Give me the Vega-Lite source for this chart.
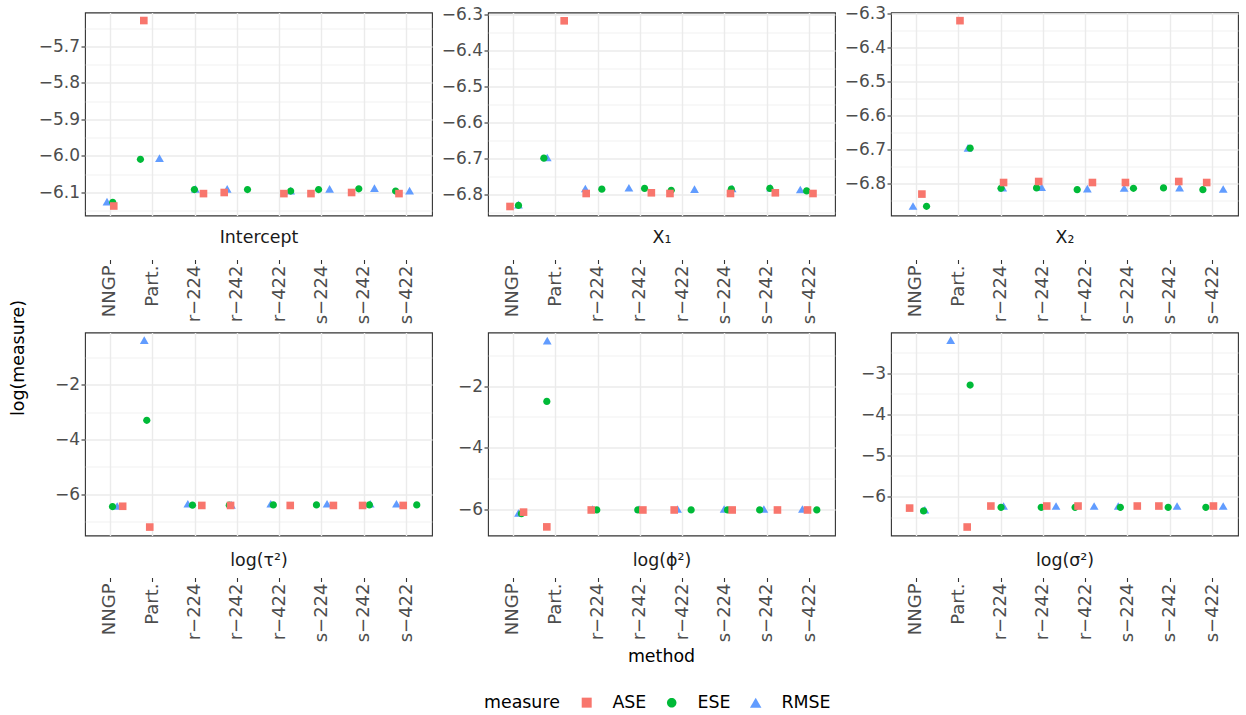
{
  "$schema": "https://vega.github.io/schema/vega-lite/v6.json",
  "padding": {"left": 8, "top": 3.5, "right": 5, "bottom": 5},
  "background": "white",
  "config": {
    "font": "DejaVu Sans",
    "view": {"stroke": "#333333", "strokeWidth": 1.1},
    "axis": {
      "domain": false, "grid": true, "gridColor": "#EBEBEB", "gridWidth": 1.4,
      "tickColor": "#333333", "tickSize": 4, "tickWidth": 1.1, "labelOverlap": false,
      "labelColor": "#4D4D4D", "labelFontSize": 17, "labelFont": "DejaVu Sans",
      "titleFont": "DejaVu Sans", "titleFontWeight": "normal", "titleColor": "#1A1A1A", "titleFontSize": 17.4
    },
    "axisX": {"labelAngle": 270, "labelAlign": "right", "labelBaseline": "middle", "labelPadding": 1.5, "labelFontSize": 18, "bandPosition": 0.5},
    "axisY": {"labelPadding": 1.5},
    "title": {"font": "DejaVu Sans", "fontWeight": "normal", "fontSize": 17.4, "color": "#000000"},
    "point": {"size": 58, "filled": true, "opacity": 1}
  },
  "datasets": {
    "d": [
      {"param":"Intercept","method":"NNGP","measure":"RMSE","value":-6.125,"jit":-0.08},
      {"param":"Intercept","method":"Part.","measure":"RMSE","value":-6.006,"jit":0.16},
      {"param":"Intercept","method":"r−224","measure":"RMSE","value":-6.090,"jit":0.01},
      {"param":"Intercept","method":"r−242","measure":"RMSE","value":-6.090,"jit":-0.24},
      {"param":"Intercept","method":"r−422","measure":"RMSE","value":-6.095,"jit":0.26},
      {"param":"Intercept","method":"s−224","measure":"RMSE","value":-6.090,"jit":0.18},
      {"param":"Intercept","method":"s−242","measure":"RMSE","value":-6.088,"jit":0.24},
      {"param":"Intercept","method":"s−422","measure":"RMSE","value":-6.095,"jit":0.07},
      {"param":"X₁","method":"NNGP","measure":"RMSE","value":-6.827,"jit":0.12},
      {"param":"X₁","method":"Part.","measure":"RMSE","value":-6.696,"jit":-0.2},
      {"param":"X₁","method":"r−224","measure":"RMSE","value":-6.782,"jit":-0.30},
      {"param":"X₁","method":"r−242","measure":"RMSE","value":-6.780,"jit":-0.27},
      {"param":"X₁","method":"r−422","measure":"RMSE","value":-6.784,"jit":0.28},
      {"param":"X₁","method":"s−224","measure":"RMSE","value":-6.782,"jit":0.17},
      {"param":"X₁","method":"s−242","measure":"RMSE","value":-6.780,"jit":0.08},
      {"param":"X₁","method":"s−422","measure":"RMSE","value":-6.785,"jit":-0.22},
      {"param":"X₂","method":"NNGP","measure":"RMSE","value":-6.865,"jit":-0.08},
      {"param":"X₂","method":"Part.","measure":"RMSE","value":-6.694,"jit":0.22},
      {"param":"X₂","method":"r−224","measure":"RMSE","value":-6.811,"jit":0.04},
      {"param":"X₂","method":"r−242","measure":"RMSE","value":-6.810,"jit":-0.04},
      {"param":"X₂","method":"r−422","measure":"RMSE","value":-6.814,"jit":0.04},
      {"param":"X₂","method":"s−224","measure":"RMSE","value":-6.812,"jit":-0.09},
      {"param":"X₂","method":"s−242","measure":"RMSE","value":-6.811,"jit":0.22},
      {"param":"X₂","method":"s−422","measure":"RMSE","value":-6.815,"jit":0.25},
      {"param":"tau","method":"NNGP","measure":"RMSE","value":-6.43,"jit":0.16},
      {"param":"tau","method":"Part.","measure":"RMSE","value":-0.371,"jit":-0.2},
      {"param":"tau","method":"r−224","measure":"RMSE","value":-6.35,"jit":-0.17},
      {"param":"tau","method":"r−242","measure":"RMSE","value":-6.39,"jit":-0.14},
      {"param":"tau","method":"r−422","measure":"RMSE","value":-6.35,"jit":-0.21},
      {"param":"tau","method":"s−224","measure":"RMSE","value":-6.35,"jit":0.12},
      {"param":"tau","method":"s−242","measure":"RMSE","value":-6.35,"jit":0.14},
      {"param":"tau","method":"s−422","measure":"RMSE","value":-6.35,"jit":-0.24},
      {"param":"phi","method":"NNGP","measure":"RMSE","value":-6.13,"jit":0.12},
      {"param":"phi","method":"Part.","measure":"RMSE","value":-0.523,"jit":-0.2},
      {"param":"phi","method":"r−224","measure":"RMSE","value":-6.00,"jit":-0.13},
      {"param":"phi","method":"r−242","measure":"RMSE","value":-6.00,"jit":-0.03},
      {"param":"phi","method":"r−422","measure":"RMSE","value":-6.00,"jit":-0.12},
      {"param":"phi","method":"s−224","measure":"RMSE","value":-6.00,"jit":-0.02},
      {"param":"phi","method":"s−242","measure":"RMSE","value":-6.00,"jit":-0.08},
      {"param":"phi","method":"s−422","measure":"RMSE","value":-6.00,"jit":-0.17},
      {"param":"sigma","method":"NNGP","measure":"RMSE","value":-6.32,"jit":0.2},
      {"param":"sigma","method":"Part.","measure":"RMSE","value":-2.20,"jit":-0.19},
      {"param":"sigma","method":"r−224","measure":"RMSE","value":-6.23,"jit":0.06},
      {"param":"sigma","method":"r−242","measure":"RMSE","value":-6.23,"jit":0.3},
      {"param":"sigma","method":"r−422","measure":"RMSE","value":-6.23,"jit":0.2},
      {"param":"sigma","method":"s−224","measure":"RMSE","value":-6.23,"jit":-0.23},
      {"param":"sigma","method":"s−242","measure":"RMSE","value":-6.23,"jit":0.16},
      {"param":"sigma","method":"s−422","measure":"RMSE","value":-6.23,"jit":0.25},

      {"param":"Intercept","method":"NNGP","measure":"ESE","value":-6.127,"jit":0.055},
      {"param":"Intercept","method":"Part.","measure":"ESE","value":-6.009,"jit":-0.29},
      {"param":"Intercept","method":"r−224","measure":"ESE","value":-6.092,"jit":-0.015},
      {"param":"Intercept","method":"r−242","measure":"ESE","value":-6.092,"jit":0.24},
      {"param":"Intercept","method":"r−422","measure":"ESE","value":-6.096,"jit":0.26},
      {"param":"Intercept","method":"s−224","measure":"ESE","value":-6.092,"jit":-0.08},
      {"param":"Intercept","method":"s−242","measure":"ESE","value":-6.090,"jit":-0.13},
      {"param":"Intercept","method":"s−422","measure":"ESE","value":-6.096,"jit":-0.26},
      {"param":"X₁","method":"NNGP","measure":"ESE","value":-6.829,"jit":0.12},
      {"param":"X₁","method":"Part.","measure":"ESE","value":-6.698,"jit":-0.28},
      {"param":"X₁","method":"r−224","measure":"ESE","value":-6.784,"jit":0.09},
      {"param":"X₁","method":"r−242","measure":"ESE","value":-6.782,"jit":0.10},
      {"param":"X₁","method":"r−422","measure":"ESE","value":-6.787,"jit":-0.27},
      {"param":"X₁","method":"s−224","measure":"ESE","value":-6.784,"jit":0.15},
      {"param":"X₁","method":"s−242","measure":"ESE","value":-6.782,"jit":0.06},
      {"param":"X₁","method":"s−422","measure":"ESE","value":-6.789,"jit":-0.07},
      {"param":"X₂","method":"NNGP","measure":"ESE","value":-6.866,"jit":0.24},
      {"param":"X₂","method":"Part.","measure":"ESE","value":-6.695,"jit":0.27},
      {"param":"X₂","method":"r−224","measure":"ESE","value":-6.813,"jit":0.0},
      {"param":"X₂","method":"r−242","measure":"ESE","value":-6.812,"jit":-0.16},
      {"param":"X₂","method":"r−422","measure":"ESE","value":-6.817,"jit":-0.2},
      {"param":"X₂","method":"s−224","measure":"ESE","value":-6.813,"jit":0.13},
      {"param":"X₂","method":"s−242","measure":"ESE","value":-6.812,"jit":-0.16},
      {"param":"X₂","method":"s−422","measure":"ESE","value":-6.817,"jit":-0.23},
      {"param":"tau","method":"NNGP","measure":"ESE","value":-6.45,"jit":0.05},
      {"param":"tau","method":"Part.","measure":"ESE","value":-3.30,"jit":-0.14},
      {"param":"tau","method":"r−224","measure":"ESE","value":-6.40,"jit":-0.06},
      {"param":"tau","method":"r−242","measure":"ESE","value":-6.40,"jit":-0.19},
      {"param":"tau","method":"r−422","measure":"ESE","value":-6.39,"jit":-0.15},
      {"param":"tau","method":"s−224","measure":"ESE","value":-6.39,"jit":-0.13},
      {"param":"tau","method":"s−242","measure":"ESE","value":-6.39,"jit":0.12},
      {"param":"tau","method":"s−422","measure":"ESE","value":-6.39,"jit":0.24},
      {"param":"phi","method":"NNGP","measure":"ESE","value":-6.15,"jit":0.19},
      {"param":"phi","method":"Part.","measure":"ESE","value":-2.50,"jit":-0.21},
      {"param":"phi","method":"r−224","measure":"ESE","value":-6.03,"jit":-0.03},
      {"param":"phi","method":"r−242","measure":"ESE","value":-6.03,"jit":-0.06},
      {"param":"phi","method":"r−422","measure":"ESE","value":-6.03,"jit":0.2},
      {"param":"phi","method":"s−224","measure":"ESE","value":-6.03,"jit":0.06},
      {"param":"phi","method":"s−242","measure":"ESE","value":-6.03,"jit":-0.18},
      {"param":"phi","method":"s−422","measure":"ESE","value":-6.03,"jit":0.17},
      {"param":"sigma","method":"NNGP","measure":"ESE","value":-6.35,"jit":0.17},
      {"param":"sigma","method":"Part.","measure":"ESE","value":-3.29,"jit":0.27},
      {"param":"sigma","method":"r−224","measure":"ESE","value":-6.26,"jit":0.0},
      {"param":"sigma","method":"r−242","measure":"ESE","value":-6.26,"jit":-0.05},
      {"param":"sigma","method":"r−422","measure":"ESE","value":-6.26,"jit":-0.25},
      {"param":"sigma","method":"s−224","measure":"ESE","value":-6.26,"jit":-0.18},
      {"param":"sigma","method":"s−242","measure":"ESE","value":-6.26,"jit":-0.05},
      {"param":"sigma","method":"s−422","measure":"ESE","value":-6.26,"jit":-0.16},

      {"param":"Intercept","method":"NNGP","measure":"ASE","value":-6.137,"jit":0.08},
      {"param":"Intercept","method":"Part.","measure":"ASE","value":-5.629,"jit":-0.21},
      {"param":"Intercept","method":"r−224","measure":"ASE","value":-6.103,"jit":0.2},
      {"param":"Intercept","method":"r−242","measure":"ASE","value":-6.100,"jit":-0.31},
      {"param":"Intercept","method":"r−422","measure":"ASE","value":-6.103,"jit":0.10},
      {"param":"Intercept","method":"s−224","measure":"ASE","value":-6.103,"jit":-0.26},
      {"param":"Intercept","method":"s−242","measure":"ASE","value":-6.100,"jit":-0.30},
      {"param":"Intercept","method":"s−422","measure":"ASE","value":-6.103,"jit":-0.18},
      {"param":"X₁","method":"NNGP","measure":"ASE","value":-6.832,"jit":-0.08},
      {"param":"X₁","method":"Part.","measure":"ASE","value":-6.317,"jit":0.20},
      {"param":"X₁","method":"r−224","measure":"ASE","value":-6.796,"jit":-0.28},
      {"param":"X₁","method":"r−242","measure":"ASE","value":-6.794,"jit":0.26},
      {"param":"X₁","method":"r−422","measure":"ASE","value":-6.796,"jit":-0.30},
      {"param":"X₁","method":"s−224","measure":"ASE","value":-6.796,"jit":0.13},
      {"param":"X₁","method":"s−242","measure":"ASE","value":-6.794,"jit":0.19},
      {"param":"X₁","method":"s−422","measure":"ASE","value":-6.796,"jit":0.08},
      {"param":"X₂","method":"NNGP","measure":"ASE","value":-6.830,"jit":0.13},
      {"param":"X₂","method":"Part.","measure":"ASE","value":-6.320,"jit":0.03},
      {"param":"X₂","method":"r−224","measure":"ASE","value":-6.796,"jit":0.06},
      {"param":"X₂","method":"r−242","measure":"ASE","value":-6.793,"jit":-0.11},
      {"param":"X₂","method":"r−422","measure":"ASE","value":-6.796,"jit":0.16},
      {"param":"X₂","method":"s−224","measure":"ASE","value":-6.796,"jit":-0.06},
      {"param":"X₂","method":"s−242","measure":"ASE","value":-6.793,"jit":0.2},
      {"param":"X₂","method":"s−422","measure":"ASE","value":-6.796,"jit":-0.14},
      {"param":"tau","method":"NNGP","measure":"ASE","value":-6.44,"jit":0.29},
      {"param":"tau","method":"Part.","measure":"ASE","value":-7.20,"jit":-0.07},
      {"param":"tau","method":"r−224","measure":"ASE","value":-6.41,"jit":0.16},
      {"param":"tau","method":"r−242","measure":"ASE","value":-6.41,"jit":-0.16},
      {"param":"tau","method":"r−422","measure":"ASE","value":-6.41,"jit":0.25},
      {"param":"tau","method":"s−224","measure":"ASE","value":-6.41,"jit":0.27},
      {"param":"tau","method":"s−242","measure":"ASE","value":-6.41,"jit":-0.04},
      {"param":"tau","method":"s−422","measure":"ASE","value":-6.41,"jit":-0.08},
      {"param":"phi","method":"NNGP","measure":"ASE","value":-6.10,"jit":0.24},
      {"param":"phi","method":"Part.","measure":"ASE","value":-6.58,"jit":-0.21},
      {"param":"phi","method":"r−224","measure":"ASE","value":-6.03,"jit":-0.16},
      {"param":"phi","method":"r−242","measure":"ASE","value":-6.03,"jit":0.06},
      {"param":"phi","method":"r−422","measure":"ASE","value":-6.03,"jit":-0.2},
      {"param":"phi","method":"s−224","measure":"ASE","value":-6.03,"jit":0.17},
      {"param":"phi","method":"s−242","measure":"ASE","value":-6.03,"jit":0.24},
      {"param":"phi","method":"s−422","measure":"ASE","value":-6.03,"jit":-0.05},
      {"param":"sigma","method":"NNGP","measure":"ASE","value":-6.28,"jit":-0.16},
      {"param":"sigma","method":"Part.","measure":"ASE","value":-6.74,"jit":0.2},
      {"param":"sigma","method":"r−224","measure":"ASE","value":-6.23,"jit":-0.24},
      {"param":"sigma","method":"r−242","measure":"ASE","value":-6.23,"jit":0.08},
      {"param":"sigma","method":"r−422","measure":"ASE","value":-6.23,"jit":-0.18},
      {"param":"sigma","method":"s−224","measure":"ASE","value":-6.23,"jit":0.22},
      {"param":"sigma","method":"s−242","measure":"ASE","value":-6.23,"jit":-0.27},
      {"param":"sigma","method":"s−422","measure":"ASE","value":-6.23,"jit":0.02}
    ]
  },
  "data": {"name": "d"},
  "columns": 3,
  "spacing": {"row": 117, "column": 56},
  "bounds": "flush",
  "resolve": {"scale": {"x": "independent", "y": "independent", "xOffset": "independent", "color": "shared", "shape": "shared"}},
  "concat": [
    {
      "width": 347, "height": 203,
      "transform": [{"filter": "datum.param == 'Intercept'"}],
      "mark": {"type": "point"},
      "encoding": {
        "x": {"field": "method", "type": "nominal", "sort": ["NNGP","Part.","r−224","r−242","r−422","s−224","s−242","s−422"],
          "scale": {"paddingInner": 0, "paddingOuter": 0.1},
          "axis": {"title": "Intercept", "offset": 44, "titleY": -17, "titleBaseline": "alphabetic"}},
        "xOffset": {"field": "jit", "type": "quantitative", "scale": {"domain": [-0.5, 0.5]}},
        "y": {"field": "value", "type": "quantitative", "scale": {"domain": [-6.163, -5.607], "nice": false, "zero": false},
          "axis": {"title": "log(measure)", "titleX": -66.5, "titleY": 345, "titleAngle": 270, "titleAlign": "center", "titleBaseline": "middle", "titleColor": "#000000",
            "values": [-6.15,-6.1,-6.05,-6,-5.95,-5.9,-5.85,-5.8,-5.75,-5.7,-5.65], "format": ".1f",
            "labelExpr": "indexof([-6.1,-6,-5.9,-5.8,-5.7], datum.value) >= 0 ? datum.label : ''",
            "gridWidth": {"condition": {"test": "indexof([-6.1,-6,-5.9,-5.8,-5.7], datum.value) >= 0", "value": 1.4}, "value": 0.7},
            "tickOpacity": {"condition": {"test": "indexof([-6.1,-6,-5.9,-5.8,-5.7], datum.value) >= 0", "value": 1}, "value": 0}}},
        "color": {"field": "measure", "type": "nominal", "scale": {"domain": ["ASE","ESE","RMSE"], "range": ["#F8766D","#00BA38","#619CFF"]},
          "legend": {"title": "measure", "orient": "none", "legendX": 399, "legendY": 681, "direction": "horizontal", "titleOrient": "left", "titleFontSize": 17.4, "titleFontWeight": "normal", "titleColor": "#000000", "labelFontSize": 17.4, "labelColor": "#000000", "symbolSize": 100, "labelOffset": 17, "columnPadding": 16, "titlePadding": 18, "symbolStrokeWidth": 0}},
        "shape": {"field": "measure", "type": "nominal", "scale": {"domain": ["ASE","ESE","RMSE"], "range": ["square","M-0.95,0A0.95,0.95,0,1,0,0.95,0A0.95,0.95,0,1,0,-0.95,0Z","M0,-1L1.15,1L-1.15,1Z"]},
          "legend": {"title": "measure", "orient": "none", "legendX": 399, "legendY": 681, "direction": "horizontal", "titleOrient": "left", "titleFontSize": 17.4, "titleFontWeight": "normal", "titleColor": "#000000", "labelFontSize": 17.4, "labelColor": "#000000", "symbolSize": 100, "labelOffset": 17, "columnPadding": 16, "titlePadding": 18, "symbolStrokeWidth": 0}}
      }
    },
    {
      "width": 347, "height": 203,
      "transform": [{"filter": "datum.param == 'X₁'"}],
      "mark": {"type": "point"},
      "encoding": {
        "x": {"field": "method", "type": "nominal", "sort": ["NNGP","Part.","r−224","r−242","r−422","s−224","s−242","s−422"],
          "scale": {"paddingInner": 0, "paddingOuter": 0.1},
          "axis": {"title": "X₁", "offset": 44, "titleY": -17, "titleBaseline": "alphabetic"}},
        "xOffset": {"field": "jit", "type": "quantitative", "scale": {"domain": [-0.5, 0.5]}},
        "y": {"field": "value", "type": "quantitative", "scale": {"domain": [-6.857, -6.294], "nice": false, "zero": false},
          "axis": {"title": null,
            "values": [-6.85,-6.8,-6.75,-6.7,-6.65,-6.6,-6.55,-6.5,-6.45,-6.4,-6.35,-6.3], "format": ".1f",
            "labelExpr": "indexof([-6.8,-6.7,-6.6,-6.5,-6.4,-6.3], datum.value) >= 0 ? datum.label : ''",
            "gridWidth": {"condition": {"test": "indexof([-6.8,-6.7,-6.6,-6.5,-6.4,-6.3], datum.value) >= 0", "value": 1.4}, "value": 0.7},
            "tickOpacity": {"condition": {"test": "indexof([-6.8,-6.7,-6.6,-6.5,-6.4,-6.3], datum.value) >= 0", "value": 1}, "value": 0}}},
        "color": {"field": "measure", "type": "nominal", "scale": {"domain": ["ASE","ESE","RMSE"], "range": ["#F8766D","#00BA38","#619CFF"]}},
        "shape": {"field": "measure", "type": "nominal", "scale": {"domain": ["ASE","ESE","RMSE"], "range": ["square","M-0.95,0A0.95,0.95,0,1,0,0.95,0A0.95,0.95,0,1,0,-0.95,0Z","M0,-1L1.15,1L-1.15,1Z"]}}
      }
    },
    {
      "width": 347, "height": 203,
      "transform": [{"filter": "datum.param == 'X₂'"}],
      "mark": {"type": "point"},
      "encoding": {
        "x": {"field": "method", "type": "nominal", "sort": ["NNGP","Part.","r−224","r−242","r−422","s−224","s−242","s−422"],
          "scale": {"paddingInner": 0, "paddingOuter": 0.1},
          "axis": {"title": "X₂", "offset": 44, "titleY": -17, "titleBaseline": "alphabetic"}},
        "xOffset": {"field": "jit", "type": "quantitative", "scale": {"domain": [-0.5, 0.5]}},
        "y": {"field": "value", "type": "quantitative", "scale": {"domain": [-6.893, -6.296], "nice": false, "zero": false},
          "axis": {"title": null,
            "values": [-6.85,-6.8,-6.75,-6.7,-6.65,-6.6,-6.55,-6.5,-6.45,-6.4,-6.35,-6.3], "format": ".1f",
            "labelExpr": "indexof([-6.8,-6.7,-6.6,-6.5,-6.4,-6.3], datum.value) >= 0 ? datum.label : ''",
            "gridWidth": {"condition": {"test": "indexof([-6.8,-6.7,-6.6,-6.5,-6.4,-6.3], datum.value) >= 0", "value": 1.4}, "value": 0.7},
            "tickOpacity": {"condition": {"test": "indexof([-6.8,-6.7,-6.6,-6.5,-6.4,-6.3], datum.value) >= 0", "value": 1}, "value": 0}}},
        "color": {"field": "measure", "type": "nominal", "scale": {"domain": ["ASE","ESE","RMSE"], "range": ["#F8766D","#00BA38","#619CFF"]}},
        "shape": {"field": "measure", "type": "nominal", "scale": {"domain": ["ASE","ESE","RMSE"], "range": ["square","M-0.95,0A0.95,0.95,0,1,0,0.95,0A0.95,0.95,0,1,0,-0.95,0Z","M0,-1L1.15,1L-1.15,1Z"]}}
      }
    },
    {
      "width": 347, "height": 203,
      "transform": [{"filter": "datum.param == 'tau'"}],
      "mark": {"type": "point"},
      "encoding": {
        "x": {"field": "method", "type": "nominal", "sort": ["NNGP","Part.","r−224","r−242","r−422","s−224","s−242","s−422"],
          "scale": {"paddingInner": 0, "paddingOuter": 0.1},
          "axis": {"title": "log(τ²)", "offset": 42, "titleY": -12, "titleBaseline": "alphabetic"}},
        "xOffset": {"field": "jit", "type": "quantitative", "scale": {"domain": [-0.5, 0.5]}},
        "y": {"field": "value", "type": "quantitative", "scale": {"domain": [-7.508, -0.091], "nice": false, "zero": false},
          "axis": {"title": null,
            "values": [-7,-6,-5,-4,-3,-2,-1], "format": "d",
            "labelExpr": "indexof([-6,-4,-2], datum.value) >= 0 ? datum.label : ''",
            "gridWidth": {"condition": {"test": "indexof([-6,-4,-2], datum.value) >= 0", "value": 1.4}, "value": 0.7},
            "tickOpacity": {"condition": {"test": "indexof([-6,-4,-2], datum.value) >= 0", "value": 1}, "value": 0}}},
        "color": {"field": "measure", "type": "nominal", "scale": {"domain": ["ASE","ESE","RMSE"], "range": ["#F8766D","#00BA38","#619CFF"]}},
        "shape": {"field": "measure", "type": "nominal", "scale": {"domain": ["ASE","ESE","RMSE"], "range": ["square","M-0.95,0A0.95,0.95,0,1,0,0.95,0A0.95,0.95,0,1,0,-0.95,0Z","M0,-1L1.15,1L-1.15,1Z"]}}
      }
    },
    {
      "width": 347, "height": 203,
      "title": {"text": "method", "orient": "bottom", "anchor": "middle", "offset": 6},
      "transform": [{"filter": "datum.param == 'phi'"}],
      "mark": {"type": "point"},
      "encoding": {
        "x": {"field": "method", "type": "nominal", "sort": ["NNGP","Part.","r−224","r−242","r−422","s−224","s−242","s−422"],
          "scale": {"paddingInner": 0, "paddingOuter": 0.1},
          "axis": {"title": "log(ϕ²)", "offset": 42, "titleY": -12, "titleBaseline": "alphabetic"}},
        "xOffset": {"field": "jit", "type": "quantitative", "scale": {"domain": [-0.5, 0.5]}},
        "y": {"field": "value", "type": "quantitative", "scale": {"domain": [-6.86, -0.26], "nice": false, "zero": false},
          "axis": {"title": null,
            "values": [-6,-5,-4,-3,-2,-1], "format": "d",
            "labelExpr": "indexof([-6,-4,-2], datum.value) >= 0 ? datum.label : ''",
            "gridWidth": {"condition": {"test": "indexof([-6,-4,-2], datum.value) >= 0", "value": 1.4}, "value": 0.7},
            "tickOpacity": {"condition": {"test": "indexof([-6,-4,-2], datum.value) >= 0", "value": 1}, "value": 0}}},
        "color": {"field": "measure", "type": "nominal", "scale": {"domain": ["ASE","ESE","RMSE"], "range": ["#F8766D","#00BA38","#619CFF"]}},
        "shape": {"field": "measure", "type": "nominal", "scale": {"domain": ["ASE","ESE","RMSE"], "range": ["square","M-0.95,0A0.95,0.95,0,1,0,0.95,0A0.95,0.95,0,1,0,-0.95,0Z","M0,-1L1.15,1L-1.15,1Z"]}}
      }
    },
    {
      "width": 347, "height": 203,
      "transform": [{"filter": "datum.param == 'sigma'"}],
      "mark": {"type": "point"},
      "encoding": {
        "x": {"field": "method", "type": "nominal", "sort": ["NNGP","Part.","r−224","r−242","r−422","s−224","s−242","s−422"],
          "scale": {"paddingInner": 0, "paddingOuter": 0.1},
          "axis": {"title": "log(σ²)", "offset": 42, "titleY": -12, "titleBaseline": "alphabetic"}},
        "xOffset": {"field": "jit", "type": "quantitative", "scale": {"domain": [-0.5, 0.5]}},
        "y": {"field": "value", "type": "quantitative", "scale": {"domain": [-6.946, -2.014], "nice": false, "zero": false},
          "axis": {"title": null,
            "values": [-6.5,-6,-5.5,-5,-4.5,-4,-3.5,-3,-2.5], "format": ".0f",
            "labelExpr": "indexof([-6,-5,-4,-3], datum.value) >= 0 ? datum.label : ''",
            "gridWidth": {"condition": {"test": "indexof([-6,-5,-4,-3], datum.value) >= 0", "value": 1.4}, "value": 0.7},
            "tickOpacity": {"condition": {"test": "indexof([-6,-5,-4,-3], datum.value) >= 0", "value": 1}, "value": 0}}},
        "color": {"field": "measure", "type": "nominal", "scale": {"domain": ["ASE","ESE","RMSE"], "range": ["#F8766D","#00BA38","#619CFF"]}},
        "shape": {"field": "measure", "type": "nominal", "scale": {"domain": ["ASE","ESE","RMSE"], "range": ["square","M-0.95,0A0.95,0.95,0,1,0,0.95,0A0.95,0.95,0,1,0,-0.95,0Z","M0,-1L1.15,1L-1.15,1Z"]}}
      }
    }
  ]
}
